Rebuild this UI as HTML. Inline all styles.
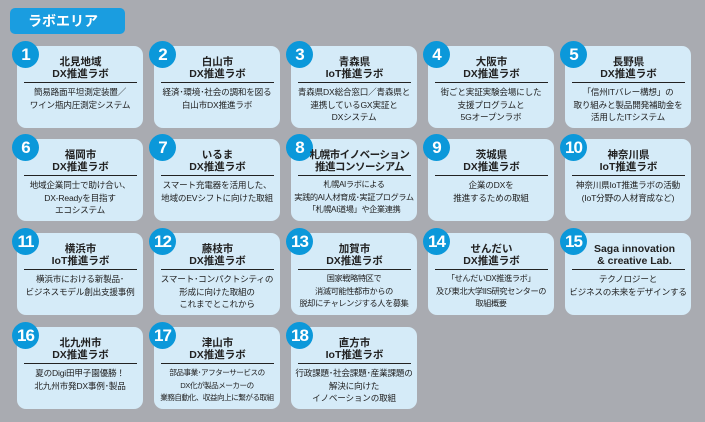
<!DOCTYPE html>
<html><head><meta charset="utf-8"><style>
*{margin:0;padding:0;box-sizing:border-box}
body{width:705px;height:422px;background:#a9abb1;position:relative;overflow:hidden;font-family:"Liberation Sans","Noto Sans CJK JP",sans-serif;color:#222}
.tab{position:absolute;left:10px;top:8px;width:115px;height:26px;background:#1a9de0;border-radius:5px;color:#fff;font-weight:bold;font-size:14px;line-height:26px;padding-left:18px}
.c{position:absolute;width:126px;height:82px;background:#d5ebf8;border-radius:9px}
.n{position:absolute;left:-5px;top:-5px;width:27px;height:27px;border-radius:50%;background:#0b98da;color:#fff;font-weight:bold;font-size:17px;line-height:27px;text-align:center;letter-spacing:-1px}
.t{position:absolute;left:7px;right:6px;top:4px;height:33px;border-bottom:1.3px solid #222;text-align:center;font-weight:bold;font-size:10.5px;line-height:12px;padding-top:6px;white-space:nowrap}
.b{position:absolute;left:0;right:0;top:40px;text-align:center;font-size:8.6px;line-height:12.5px;white-space:nowrap;letter-spacing:-0.2px}
</style></head><body>
<div class="tab">ラボエリア</div>

<div class="c" style="left:17px;top:46px"><div class="n">1</div><div class="t">北見地域<br>DX推進ラボ</div><div class="b">簡易路面平坦測定装置／<br>ワイン瓶内圧測定システム</div></div>
<div class="c" style="left:154px;top:46px"><div class="n">2</div><div class="t">白山市<br>DX推進ラボ</div><div class="b">経済･環境･社会の調和を図る<br>白山市DX推進ラボ</div></div>
<div class="c" style="left:291px;top:46px"><div class="n">3</div><div class="t">青森県<br>IoT推進ラボ</div><div class="b">青森県DX総合窓口／青森県と<br>連携しているGX実証と<br>DXシステム</div></div>
<div class="c" style="left:428px;top:46px"><div class="n">4</div><div class="t">大阪市<br>DX推進ラボ</div><div class="b">街ごと実証実験会場にした<br>支援プログラムと<br>5Gオープンラボ</div></div>
<div class="c" style="left:565px;top:46px"><div class="n">5</div><div class="t">長野県<br>DX推進ラボ</div><div class="b">「信州ITバレー構想」の<br>取り組みと製品開発補助金を<br>活用したITシステム</div></div>

<div class="c" style="left:17px;top:139px"><div class="n">6</div><div class="t">福岡市<br>DX推進ラボ</div><div class="b">地域企業同士で助け合い、<br>DX-Readyを目指す<br>エコシステム</div></div>
<div class="c" style="left:154px;top:139px"><div class="n">7</div><div class="t">いるま<br>DX推進ラボ</div><div class="b">スマート充電器を活用した、<br>地域のEVシフトに向けた取組</div></div>
<div class="c" style="left:291px;top:139px"><div class="n">8</div><div class="t" style="padding-left:10px;letter-spacing:-0.5px">札幌市イノベーション<br>推進コンソーシアム</div><div class="b" style="font-size:8.2px;letter-spacing:-0.4px">札幌AIラボによる<br>実践的AI人材育成･実証プログラム<br>「札幌AI道場」や企業連携</div></div>
<div class="c" style="left:428px;top:139px"><div class="n">9</div><div class="t">茨城県<br>DX推進ラボ</div><div class="b">企業のDXを<br>推進するための取組</div></div>
<div class="c" style="left:565px;top:139px"><div class="n">10</div><div class="t">神奈川県<br>IoT推進ラボ</div><div class="b">神奈川県IoT推進ラボの活動<br>(IoT分野の人材育成など)</div></div>

<div class="c" style="left:17px;top:233px"><div class="n">11</div><div class="t">横浜市<br>IoT推進ラボ</div><div class="b">横浜市における新製品･<br>ビジネスモデル創出支援事例</div></div>
<div class="c" style="left:154px;top:233px"><div class="n">12</div><div class="t">藤枝市<br>DX推進ラボ</div><div class="b">スマート･コンパクトシティの<br>形成に向けた取組の<br>これまでとこれから</div></div>
<div class="c" style="left:291px;top:233px"><div class="n">13</div><div class="t">加賀市<br>DX推進ラボ</div><div class="b" style="font-size:8.2px;letter-spacing:-0.4px">国家戦略特区で<br>消滅可能性都市からの<br>脱却にチャレンジする人を募集</div></div>
<div class="c" style="left:428px;top:233px"><div class="n">14</div><div class="t">せんだい<br>DX推進ラボ</div><div class="b" style="font-size:8.2px;letter-spacing:-0.4px">「せんだいDX推進ラボ」<br>及び東北大学IIS研究センターの<br>取組概要</div></div>
<div class="c" style="left:565px;top:233px"><div class="n">15</div><div class="t" style="padding-left:12px">Saga innovation<br>&amp; creative Lab.</div><div class="b">テクノロジーと<br>ビジネスの未来をデザインする</div></div>

<div class="c" style="left:17px;top:327px"><div class="n">16</div><div class="t">北九州市<br>DX推進ラボ</div><div class="b">夏のDigi田甲子園優勝！<br>北九州市発DX事例･製品</div></div>
<div class="c" style="left:154px;top:327px"><div class="n">17</div><div class="t">津山市<br>DX推進ラボ</div><div class="b" style="font-size:7.6px;letter-spacing:-0.5px">部品事業･アフターサービスの<br>DX化が製品メーカーの<br>業務自動化、収益向上に繋がる取組</div></div>
<div class="c" style="left:291px;top:327px"><div class="n">18</div><div class="t">直方市<br>IoT推進ラボ</div><div class="b">行政課題･社会課題･産業課題の<br>解決に向けた<br>イノベーションの取組</div></div>
</body></html>
